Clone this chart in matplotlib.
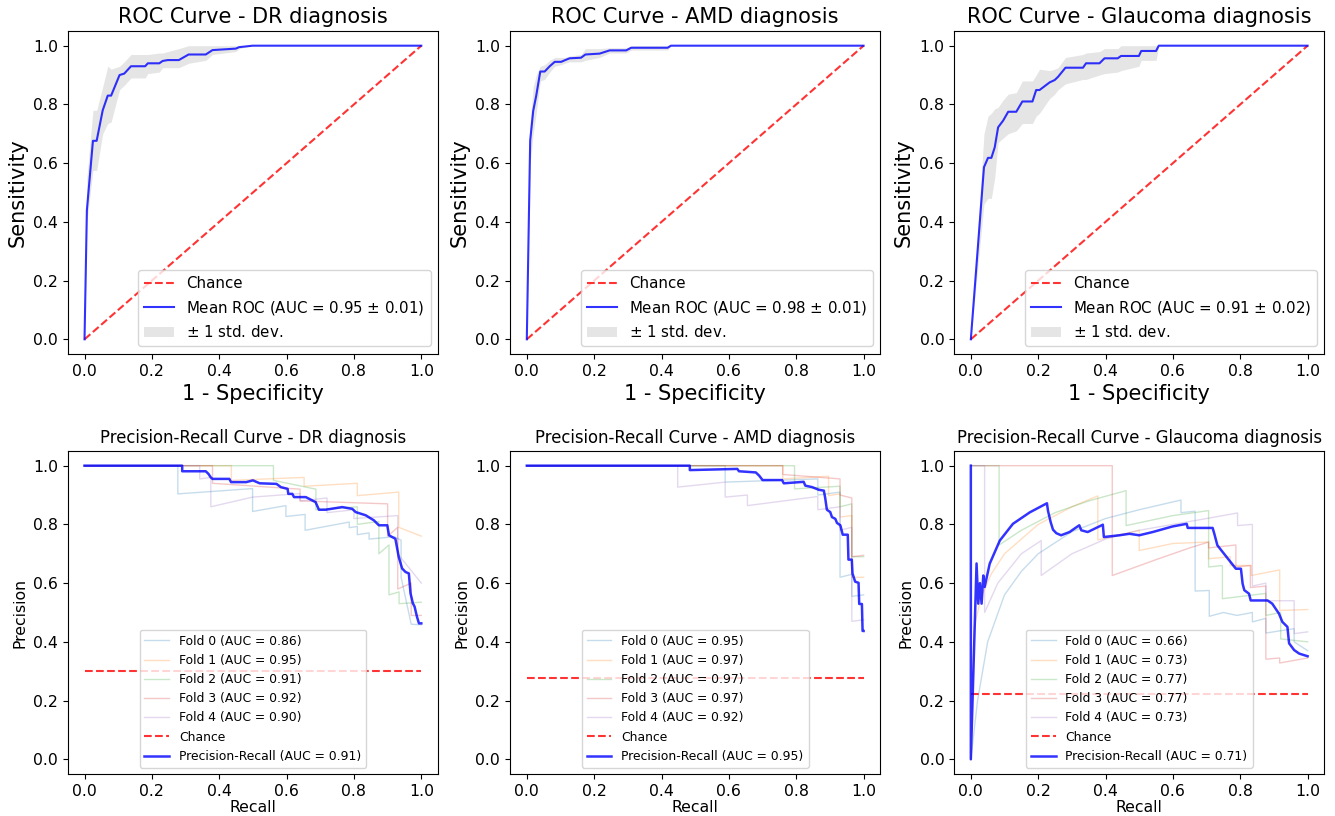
import matplotlib
matplotlib.use("Agg")
import matplotlib.pyplot as plt
import numpy as np

diagnoses = ["DR", "AMD", "Glaucoma"]

# ---- ROC: mean curve and +/- 1 std band ----
dr_fpr = [0, .007, .025, .036, .054, .069, .079, .104, .118, .138, .18, .188, .222, .232, .247, .28, .309, .36, .38, .449, .459, .499, 1.0]
dr_tpr = [0, .44, .676, .676, .78, .83, .83, .90, .905, .93, .93, .94, .94, .948, .951, .951, .97, .97, .985, .99, .995, 1.0, 1.0]
dr_lo = [0, .40, .575, .575, .70, .735, .74, .85, .865, .89, .89, .905, .91, .925, .925, .925, .94, .95, .97, .98, .99, 1.0, 1.0]
dr_hi = [0, .55, .78, .78, .86, .93, .92, .93, .945, .97, .97, .97, .975, .975, .98, .99, 1.0, 1.0, 1.0, 1.0, 1.0, 1.0, 1.0]

amd_fpr = [0, .01, .019, .028, .04, .053, .068, .083, .102, .112, .127, .161, .174, .216, .246, .295, .31, .418, .428, 1.0]
amd_tpr = [0, .677, .778, .83, .912, .912, .93, .945, .945, .95, .957, .959, .97, .973, .984, .984, .993, .993, 1.0, 1.0]
amd_lo = [0, .60, .70, .77, .88, .885, .91, .93, .935, .94, .945, .945, .95, .96, .975, .975, .985, .985, 1.0, 1.0]
amd_hi = [0, .74, .86, .90, .93, .935, .95, .96, .96, .96, .965, .97, .99, .99, .993, .993, 1.0, 1.0, 1.0, 1.0]

gl_fpr = [0, .039, .051, .061, .071, .081, .096, .111, .135, .153, .183, .194, .204, .234, .249, .259, .281, .333, .342, .382, .397, .436, .446, .499, .506, .55, .558, 1.0]
gl_tpr = [0, .586, .618, .618, .654, .722, .745, .775, .775, .81, .81, .849, .849, .875, .883, .894, .925, .925, .94, .94, .957, .957, .965, .965, .982, .982, 1.0, 1.0]
gl_lo = [0, .46, .48, .48, .55, .67, .685, .70, .71, .735, .735, .76, .77, .82, .835, .85, .87, .885, .885, .90, .905, .91, .915, .93, .95, .95, 1.0, 1.0]
gl_hi = [0, .70, .76, .77, .785, .79, .815, .835, .84, .88, .88, .90, .92, .915, .92, .925, .96, .97, .975, .98, .99, .99, 1.0, 1.0, 1.0, 1.0, 1.0, 1.0]

roc_auc_text = ["0.95 $\\pm$ 0.01", "0.98 $\\pm$ 0.01", "0.91 $\\pm$ 0.02"]

# ---- Precision-Recall: per-fold curves ----
dr_fold_x = [
    [0, .277, .277, .499, .499, .598, .598, .655, .655, .786, .786, .81, .81, .845, .845, .92, .94, .94, .97, 1.0],
    [0, .436, .436, .652, .652, .81, .81, .933, .933, 1.0],
    [0, .561, .561, .687, .687, .81, .81, .874, .874, .904, .904, .934, .934, 1.0],
    [0, .38, .38, .64, .64, .9, .9, .93, .93, .97, .97, 1.0],
    [0, .342, .342, .375, .375, .499, .64, .64, .72, .72, .80, .80, .93, .93, 1.0],
]
dr_fold_y = [
    [1, 1, .904, .922, .844, .864, .827, .834, .78, .808, .789, .793, .765, .771, .75, .758, .746, .62, .46, .458],
    [1, 1, .95, .96, .93, .94, .898, .91, .79, .76],
    [1, 1, .95, .92, .85, .86, .80, .81, .70, .73, .56, .57, .53, .535],
    [1, 1, .94, .92, .88, .87, .76, .79, .58, .6, .49, .49],
    [1, 1, .955, .96, .86, .893, .905, .88, .89, .84, .85, .82, .83, .70, .60],
]
dr_fold_auc = [0.86, 0.95, 0.91, 0.92, 0.90]

amd_fold_x = [
    [0, .589, .589, .864, .864, .93, .93, .965, .965, 1.0],
    [0, .76, .76, .896, .896, .93, .93, .965, .965, 1.0],
    [0, .795, .795, .93, .93, .965, .965, 1.0],
    [0, .76, .76, .93, .93, .965, .965, 1.0],
    [0, .448, .448, .589, .589, .655, .655, .864, .864, .93, .93, .965, .965, 1.0],
]
amd_fold_y = [
    [1, 1, .944, .955, .90, .91, .62, .63, .555, .56],
    [1, 1, .955, .964, .898, .904, .825, .83, .62, .62],
    [1, 1, .921, .93, .86, .87, .69, .69],
    [1, 1, .97, .955, .90, .89, .69, .695],
    [1, 1, .927, .944, .893, .90, .864, .895, .85, .86, .78, .79, .47, .475],
]
amd_fold_auc = [0.95, 0.97, 0.97, 0.97, 0.92]

gl_fold_x = [
    [0, .02, .05, .1, .15, .2, .3, .4, .5, .624, .624, .666, .666, .708, .708, .75, .79, .836, .836, .876, .876, .96, .96, 1.0],
    [0, .01, .03, .06, .1, .2, .3, .377, .377, .5, .5, .6, .706, .706, .77, .77, .833, .833, .917, .917, 1.0],
    [0, .084, .084, .15, .25, .35, .461, .461, .6, .706, .706, .747, .747, .876, .876, .92, .92, 1.0],
    [0, .42, .42, .55, .65, .706, .706, .787, .787, .83, .83, .876, .876, .917, .917, 1.0],
    [0, .041, .041, .08, .15, .209, .209, .3, .4, .5, .6, .7, .792, .792, .836, .836, .876, .876, .96, .96, 1.0],
]
gl_fold_y = [
    [0, .2, .4, .56, .64, .70, .775, .82, .85, .883, .84, .845, .573, .575, .487, .50, .49, .50, .468, .48, .43, .445, .40, .37],
    [0, .45, .55, .63, .70, .80, .86, .897, .747, .78, .711, .735, .74, .683, .69, .66, .66, .626, .645, .507, .51],
    [1, 1, .73, .78, .84, .88, .915, .796, .83, .847, .655, .66, .547, .565, .49, .50, .41, .40],
    [1, 1, .626, .68, .72, .74, .72, .73, .655, .66, .585, .59, .341, .345, .328, .345],
    [1, 1, .50, .60, .70, .745, .626, .70, .75, .78, .80, .82, .839, .796, .80, .59, .60, .54, .54, .428, .434],
]
gl_fold_auc = [0.66, 0.73, 0.77, 0.77, 0.73]

# ---- Precision-Recall: mean curve ----
dr_pr_x = [0, .29, .29, .36, .368, .375, .38, .43, .435, .48, .50, .52, .57, .583, .603, .605, .617, .622, .657, .686, .696, .716, .765, .795, .805, .835, .859, .874, .899, .904, .923, .933, .943, .953, .963, .968, .975, .98, .987, .993, 1.0]
dr_pr_y = [1, 1, .981, .981, .972, .96, .955, .955, .944, .944, .95, .94, .938, .927, .921, .904, .904, .893, .893, .876, .85, .85, .859, .853, .842, .831, .814, .797, .797, .763, .751, .689, .65, .638, .633, .565, .531, .52, .486, .463, .463]

amd_pr_x = [0, .484, .484, .625, .63, .68, .69, .70, .758, .763, .822, .827, .847, .867, .882, .886, .891, .901, .906, .916, .921, .931, .938, .953, .955, .965, .967, .975, .985, .987, .995, .997, 1.0]
amd_pr_y = [1, 1, .985, .989, .981, .977, .966, .951, .951, .94, .945, .932, .927, .918, .915, .89, .85, .842, .825, .819, .805, .797, .765, .765, .68, .68, .633, .605, .601, .529, .529, .437, .437]

gl_pr_x = [0, 0, .017, .022, .027, .032, .037, .041, .056, .086, .125, .175, .226, .229, .237, .244, .254, .268, .293, .322, .328, .347, .392, .395, .441, .471, .50, .54, .599, .641, .644, .688, .718, .723, .732, .747, .767, .787, .802, .807, .812, .826, .831, .881, .895, .915, .925, .94, .945, .96, .975, 1.0]
gl_pr_y = [1, 0, .667, .53, .60, .53, .626, .587, .666, .745, .802, .841, .872, .847, .808, .782, .77, .763, .774, .797, .78, .774, .799, .757, .763, .768, .763, .774, .793, .802, .788, .788, .788, .768, .729, .707, .678, .649, .649, .598, .576, .564, .541, .541, .53, .496, .468, .451, .395, .372, .36, .351]

pr_auc = [0.91, 0.95, 0.71]
chance = [0.302, 0.276, 0.224]

roc_data = [(dr_fpr, dr_tpr, dr_lo, dr_hi), (amd_fpr, amd_tpr, amd_lo, amd_hi), (gl_fpr, gl_tpr, gl_lo, gl_hi)]
fold_data = [(dr_fold_x, dr_fold_y, dr_fold_auc), (amd_fold_x, amd_fold_y, amd_fold_auc), (gl_fold_x, gl_fold_y, gl_fold_auc)]
mean_pr = [(dr_pr_x, dr_pr_y), (amd_pr_x, amd_pr_y), (gl_pr_x, gl_pr_y)]

fold_colors = plt.rcParams['axes.prop_cycle'].by_key()['color'][:5]

fig = plt.figure(figsize=(13.35, 8.16), dpi=100)
lefts = [0.0507, 0.382, 0.7146]
w, h = 0.2775, 0.3958

for i, name in enumerate(diagnoses):
    # top row: ROC
    ax = fig.add_axes([lefts[i], 0.5662, w, h])
    fpr, tpr, lo, hi = roc_data[i]
    ax.plot([0, 1], [0, 1], linestyle='--', lw=1.5, color='r', alpha=.8, label='Chance')
    ax.plot(fpr, tpr, color='b', lw=1.5, alpha=.8,
            label='Mean ROC (AUC = %s)' % roc_auc_text[i])
    ax.fill_between(fpr, lo, hi, color='grey', alpha=.2, lw=0, label=r'$\pm$ 1 std. dev.')
    ax.set_xlim(-0.05, 1.05)
    ax.set_ylim(-0.05, 1.05)
    ax.set_title('ROC Curve - %s diagnosis' % name, fontsize=15)
    ax.set_xlabel('1 - Specificity', fontsize=15)
    ax.set_ylabel('Sensitivity', fontsize=15)
    ax.tick_params(labelsize=11.3)
    ax.legend(loc='lower right', fontsize=10.8)

    # bottom row: Precision-Recall
    ax = fig.add_axes([lefts[i], 0.0515, w, h])
    fx, fy, fauc = fold_data[i]
    for k in range(5):
        ax.plot(fx[k], fy[k], lw=1, alpha=0.25, color=fold_colors[k],
                label='Fold %d (AUC = %.2f)' % (k, fauc[k]))
    ax.plot([0, 1], [chance[i], chance[i]], linestyle='--', lw=1.5, color='r', alpha=.8, label='Chance')
    px, py = mean_pr[i]
    ax.plot(px, py, color='b', lw=1.8, alpha=.8,
            label='Precision-Recall (AUC = %.2f)' % pr_auc[i])
    ax.set_xlim(-0.05, 1.05)
    ax.set_ylim(-0.05, 1.05)
    ax.set_title('Precision-Recall Curve - %s diagnosis' % name, fontsize=11.9)
    ax.set_xlabel('Recall', fontsize=11.3, labelpad=1)
    ax.set_ylabel('Precision', fontsize=11.3)
    ax.tick_params(labelsize=11.3)
    ax.legend(loc='lower center', fontsize=8.9)

fig.savefig('out.png', dpi=100)
